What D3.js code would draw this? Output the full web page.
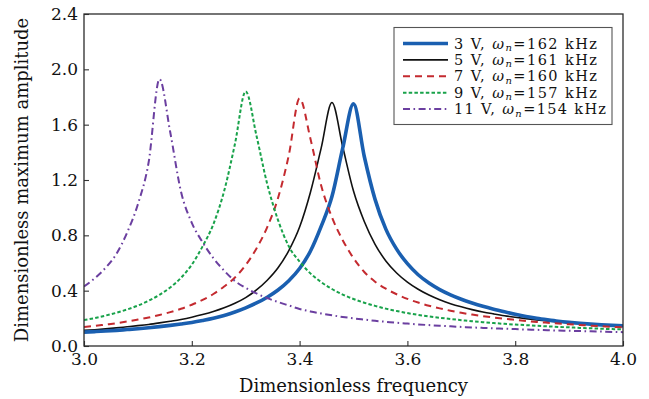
<!DOCTYPE html>
<html>
<head>
<meta charset="utf-8">
<script src="https://cdn.jsdelivr.net/npm/d3@7"></script>
<style>
  html, body { margin: 0; padding: 0; background: #fff; }
  svg { display: block; }
  text { font-family: "DejaVu Serif", "Liberation Serif", serif; fill: #111; }
</style>
</head>
<body>
<svg id="chart" width="649" height="399"></svg>
<script>
// Dimensionless frequency grid
const freq = [3.00, 3.02, 3.04, 3.06, 3.08, 3.10, 3.12, 3.14, 3.16, 3.18,
              3.20, 3.22, 3.24, 3.26, 3.28, 3.30, 3.32, 3.34, 3.36, 3.38,
              3.40, 3.42, 3.44, 3.46, 3.48, 3.50, 3.52, 3.54, 3.56, 3.58,
              3.60, 3.62, 3.64, 3.66, 3.68, 3.70, 3.72, 3.74, 3.76, 3.78,
              3.80, 3.82, 3.84, 3.86, 3.88, 3.90, 3.92, 3.94, 3.96, 3.98, 4.00];

// Maximum amplitude for each drive voltage
const amp3V = [0.100, 0.104, 0.108, 0.113, 0.119, 0.125, 0.132, 0.140, 0.149, 0.159,
               0.170, 0.184, 0.200, 0.221, 0.246, 0.276, 0.311, 0.353, 0.405, 0.472,
               0.560, 0.685, 0.865, 1.080, 1.430, 1.750, 1.370, 1.060, 0.845, 0.700,
               0.595, 0.515, 0.455, 0.408, 0.370, 0.338, 0.311, 0.287, 0.266, 0.247,
               0.229, 0.213, 0.200, 0.189, 0.179, 0.171, 0.164, 0.158, 0.153, 0.149, 0.146];
const amp5V = [0.113, 0.118, 0.124, 0.131, 0.139, 0.147, 0.156, 0.167, 0.179, 0.192,
               0.208, 0.227, 0.249, 0.276, 0.309, 0.350, 0.405, 0.475, 0.565, 0.690,
               0.860, 1.110, 1.430, 1.760, 1.440, 1.120, 0.900, 0.735, 0.615, 0.528,
               0.462, 0.410, 0.368, 0.334, 0.306, 0.283, 0.263, 0.246, 0.232, 0.219,
               0.208, 0.198, 0.189, 0.181, 0.174, 0.167, 0.161, 0.156, 0.151, 0.146, 0.142];
const amp7V = [0.137, 0.145, 0.155, 0.165, 0.177, 0.191, 0.206, 0.224, 0.245, 0.269,
               0.298, 0.333, 0.376, 0.430, 0.495, 0.585, 0.705, 0.860, 1.070, 1.380,
               1.790, 1.500, 1.160, 0.930, 0.765, 0.635, 0.535, 0.465, 0.414, 0.374,
               0.341, 0.314, 0.291, 0.272, 0.255, 0.240, 0.227, 0.216, 0.206, 0.197,
               0.189, 0.181, 0.174, 0.168, 0.162, 0.157, 0.152, 0.147, 0.143, 0.139, 0.136];
const amp9V = [0.187, 0.202, 0.220, 0.240, 0.264, 0.292, 0.327, 0.370, 0.423, 0.493,
               0.588, 0.720, 0.880, 1.120, 1.460, 1.840, 1.520, 1.170, 0.910, 0.720,
               0.610, 0.525, 0.462, 0.412, 0.372, 0.340, 0.313, 0.290, 0.270, 0.253,
               0.238, 0.225, 0.214, 0.204, 0.195, 0.187, 0.179, 0.172, 0.166, 0.160,
               0.155, 0.151, 0.146, 0.142, 0.138, 0.135, 0.131, 0.128, 0.125, 0.122, 0.120];
const amp11V = [0.430, 0.490, 0.565, 0.665, 0.820, 1.025, 1.330, 1.930, 1.545, 1.115,
                0.890, 0.750, 0.635, 0.545, 0.470, 0.420, 0.380, 0.346, 0.318, 0.293,
                0.268, 0.250, 0.235, 0.222, 0.210, 0.200, 0.191, 0.182, 0.175, 0.168,
                0.162, 0.156, 0.151, 0.146, 0.142, 0.138, 0.134, 0.131, 0.128, 0.125,
                0.122, 0.119, 0.117, 0.114, 0.112, 0.110, 0.108, 0.106, 0.104, 0.102, 0.100];

// Legend entries
const voltages = ["3", "5", "7", "9", "11"];
const naturalFreqs = ["162", "161", "160", "157", "154"];

// Axis ticks
const xTicks = [3.0, 3.2, 3.4, 3.6, 3.8, 4.0];
const yTicks = [0.0, 0.4, 0.8, 1.2, 1.6, 2.0, 2.4];

const series = [
  { key: "5V",  values: amp5V,  legendIdx: 1, color: "#111111", width: 1.6, dash: null },
  { key: "3V",  values: amp3V,  legendIdx: 0, color: "#1a5fb0", width: 3.6, dash: null },
  { key: "7V",  values: amp7V,  legendIdx: 2, color: "#c42a2f", width: 2.0, dash: "7,5" },
  { key: "9V",  values: amp9V,  legendIdx: 3, color: "#18a24a", width: 2.0, dash: "3.5,2.2" },
  { key: "11V", values: amp11V, legendIdx: 4, color: "#6b3fa0", width: 2.0, dash: "7,3.5,1.6,3.5" }
];

const plotL = 84, plotR = 623, plotT = 14, plotB = 346;

const svg = d3.select("#chart");
const x = d3.scaleLinear().domain([3, 4]).range([plotL, plotR]);
const y = d3.scaleLinear().domain([0, 2.4]).range([plotB, plotT]);

svg.append("defs").append("clipPath").attr("id", "plotClip")
  .append("rect").attr("x", plotL).attr("y", plotT)
  .attr("width", plotR - plotL).attr("height", plotB - plotT);

// Curves (smooth, rounded at the resonance peaks)
const line = d3.line()
  .x((d, i) => x(freq[i]))
  .y(d => y(d))
  .curve(d3.curveMonotoneX);

const curves = svg.append("g").attr("clip-path", "url(#plotClip)");
series.forEach(s => {
  curves.append("path")
    .attr("d", line(s.values))
    .attr("fill", "none")
    .attr("stroke", s.color)
    .attr("stroke-width", s.width)
    .attr("stroke-dasharray", s.dash)
    .attr("stroke-linejoin", "round");
});

// Axes with inward ticks
const xAxis = d3.axisBottom(x).tickValues(xTicks).tickSizeInner(-5).tickSizeOuter(0)
  .tickPadding(7).tickFormat(d3.format(".1f"));
const yAxis = d3.axisLeft(y).tickValues(yTicks).tickSizeInner(-5).tickSizeOuter(0)
  .tickPadding(6).tickFormat(d3.format(".1f"));

const gx = svg.append("g").attr("transform", `translate(0,${plotB})`).call(xAxis);
const gy = svg.append("g").attr("transform", `translate(${plotL},0)`).call(yAxis);
[gx, gy].forEach(g => {
  g.select(".domain").remove();
  g.selectAll(".tick line").attr("stroke", "#333").attr("stroke-width", 1.1);
  g.selectAll(".tick text").attr("font-family", "DejaVu Serif").attr("font-size", 17).attr("fill", "#1a1a1a");
});

// Frame
svg.append("rect")
  .attr("x", plotL).attr("y", plotT)
  .attr("width", plotR - plotL).attr("height", plotB - plotT)
  .attr("fill", "none").attr("stroke", "#2b2b2b").attr("stroke-width", 1.3);

// Axis titles
svg.append("text")
  .attr("x", (plotL + plotR) / 2).attr("y", 392)
  .attr("text-anchor", "middle").attr("font-size", 18)
  .text("Dimensionless frequency");
svg.append("text")
  .attr("transform", `translate(28,${(plotT + plotB) / 2}) rotate(-90)`)
  .attr("text-anchor", "middle").attr("font-size", 18)
  .text("Dimensionless maximum amplitude");

// Legend
const legend = svg.append("g");
legend.append("rect")
  .attr("x", 394).attr("y", 27.5).attr("width", 218).attr("height", 97)
  .attr("fill", "#fff").attr("stroke", "#555").attr("stroke-width", 1.1);

const rowY = i => 43.5 + i * 16.4;
const legendOrder = series.slice().sort((a, b) => a.legendIdx - b.legendIdx);
legendOrder.forEach((s, i) => {
  const yy = rowY(i);
  legend.append("line")
    .attr("x1", 403).attr("x2", 448).attr("y1", yy).attr("y2", yy)
    .attr("stroke", s.color).attr("stroke-width", s.width)
    .attr("stroke-dasharray", s.dash);
  const t = legend.append("text")
    .attr("x", 454).attr("y", yy + 5).attr("font-size", 14.5)
    .attr("textLength", voltages[i].length > 1 ? 152 : 143)
    .attr("lengthAdjust", "spacing");
  t.append("tspan").text(voltages[i] + " V, ");
  t.append("tspan").attr("font-style", "italic").text("ω");
  t.append("tspan").attr("font-style", "italic").attr("font-size", 10).attr("dy", 2.5).text("n");
  t.append("tspan").attr("dy", -2.5).text("=" + naturalFreqs[i] + " kHz");
});
</script>
</body>
</html>
